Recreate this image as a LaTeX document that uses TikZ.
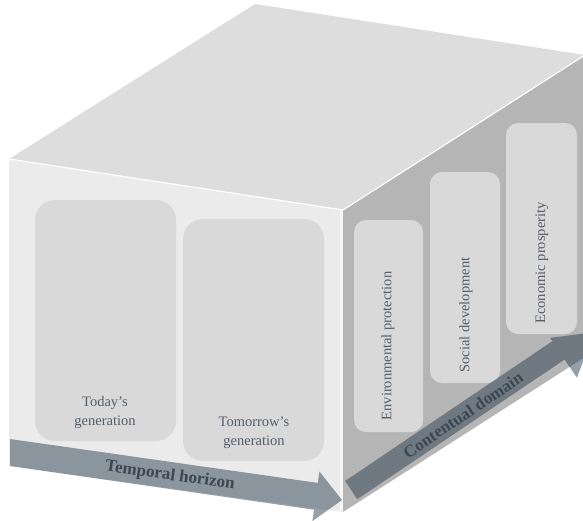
\documentclass[tikz,border=0pt]{standalone}
\usepackage{fontspec}
\setmainfont{Liberation Serif}
\definecolor{FrontGray}{rgb}{0.92, 0.92, 0.92}
\definecolor{TopGray}{rgb}{0.865, 0.865, 0.865}
\definecolor{SideGray}{rgb}{0.71, 0.71, 0.71}
\definecolor{BoxGray}{rgb}{0.85, 0.85, 0.85}
\definecolor{ArrowSlate}{rgb}{0.14, 0.22, 0.29}
\definecolor{LabelSlate}{rgb}{0.33, 0.37, 0.41}
\definecolor{TitleSlate}{rgb}{0.23, 0.28, 0.33}

\begin{document}
\begin{tikzpicture}[
    x=1pt, y=-1pt,
    panel/.style={fill=BoxGray, rounded corners=20pt},
    slim/.style={fill=BoxGray, rounded corners=12pt},
    band/.style={fill=ArrowSlate, fill opacity=0.48},
    lbl/.style={text=LabelSlate, font=\fontsize{14.5}{18.5}\selectfont, align=center, inner sep=0pt},
    vlbl/.style={lbl, rotate=90},
    title/.style={text=TitleSlate, font=\fontsize{17}{20}\selectfont\bfseries, inner sep=0pt},
]
\useasboundingbox (0,0) rectangle (583,520);

% caras de la caja
\fill[TopGray] (9,159) -- (255,4) -- (585,55) -- (343,210) -- cycle;
\fill[FrontGray] (9,159) -- (343,210) -- (343,512) -- (9,466) -- cycle;
\fill[SideGray] (343,210) -- (585,55) -- (585,357) -- (343,512) -- cycle;
\draw[white, line width=1.2pt] (9,159) -- (343,210) -- (585,55);
\draw[white!55!FrontGray, line width=3pt] (341.5,211) -- (341.5,511);

% generaciones (frente)
\fill[panel] (35,200) rectangle (176,441);
\fill[panel] (183,219) rectangle (324,461);

% dominios (lado)
\fill[slim] (354,220) rectangle (423,432);
\fill[slim] (430,172) rectangle (500,383);
\fill[slim] (506,123) rectangle (577,334);

% flechas
\fill[band] (10,439) -- (317.8,482.9) -- (319.4,471.5) -- (342,500)
    -- (312.4,521.1) -- (314.0,509.7) -- (10,466) -- cycle;
\fill[band] (345.1,481.0) -- (552.3,341.2) -- (550.1,337.9) -- (594.4,332.1)
    -- (576.9,377.7) -- (564.6,359.5) -- (357.3,499.2) -- cycle;

% etiquetas
\node[lbl] (today) at (105,412.5) {Today’s\\generation};
\node[lbl] (tomorrow) at (254,432.5) {Tomorrow’s\\generation};
\node[vlbl] (env) at (388,346) {Environmental protection};
\node[vlbl] (social) at (466,315) {Social development};
\node[vlbl] (econ) at (542,263) {Economic prosperity};
\node[title, rotate=-8.1] (temporal) at (170,476) {Temporal horizon};
\node[title, rotate=34] (contentual) at (463,415) {Contentual domain};

\end{tikzpicture}
\end{document}
